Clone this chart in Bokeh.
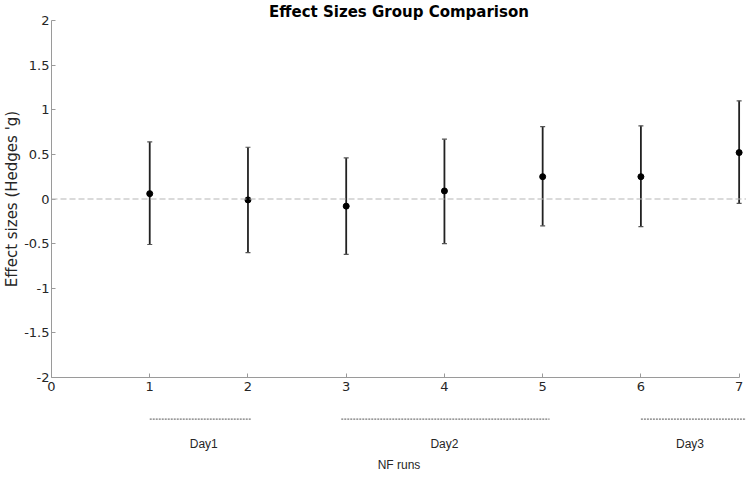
from bokeh.plotting import figure
from bokeh.models import Range1d, Span, ColumnDataSource, FixedTicker, Title
from bokeh.layouts import column
from bokeh.embed import file_html
from bokeh.resources import INLINE
from bokeh.core.properties import value

# ---- data ----
runs = [1, 2, 3, 4, 5, 6, 7]
effect = [0.06, -0.01, -0.08, 0.09, 0.25, 0.25, 0.52]
upper = [0.64, 0.58, 0.46, 0.67, 0.81, 0.82, 1.10]
lower = [-0.51, -0.60, -0.62, -0.50, -0.30, -0.31, -0.05]

x_ticks = [0, 1, 2, 3, 4, 5, 6, 7]
y_ticks = [-2, -1.5, -1, -0.5, 0, 0.5, 1, 1.5, 2]

day_labels = ["Day1", "Day2", "Day3"]
day_start = [1.0, 2.95, 6.0]
day_end = [2.03, 5.07, 7.1]
day_center = [1.55, 4.0, 6.5]

FONT = "DejaVu Sans"
AX_COLOR = "#9a9a9a"
TXT_COLOR = "#262626"
LEFT = 51
W = 746

x_range = Range1d(0, 7.075)

# ---- main figure ----
p = figure(width=W, height=393, x_range=x_range, y_range=Range1d(-2, 2),
           output_backend="svg", toolbar_location=None,
           min_border_left=LEFT, min_border_right=0, min_border_top=0, min_border_bottom=0)
p.title = Title(text="Effect Sizes Group Comparison", align="center",
                text_font=FONT, text_font_size="15px", text_font_style="bold",
                text_color="#000000", standoff=0, offset=0)
p.outline_line_color = None
p.xgrid.grid_line_color = None
p.ygrid.grid_line_color = None

for ax in (p.xaxis[0], p.yaxis[0]):
    ax.axis_line_color = AX_COLOR
    ax.major_tick_line_color = AX_COLOR
    ax.minor_tick_line_color = None
    ax.major_tick_in = 4
    ax.major_tick_out = 0
    ax.major_label_text_font = FONT
    ax.major_label_text_font_size = "13px"
    ax.major_label_text_color = TXT_COLOR
    ax.major_label_standoff = 2

p.xaxis.major_label_standoff = 4
p.xaxis.ticker = FixedTicker(ticks=x_ticks)
p.xaxis.bounds = (0, 7)
p.yaxis.ticker = FixedTicker(ticks=y_ticks)
p.yaxis.bounds = (-2, 2)
p.yaxis.major_label_overrides = {t: f"{t:g}" for t in y_ticks}
p.yaxis.axis_label = "Effect sizes (Hedges 'g)"
p.yaxis.axis_label_text_font = FONT
p.yaxis.axis_label_text_font_size = "15px"
p.yaxis.axis_label_text_font_style = "normal"
p.yaxis.axis_label_text_color = TXT_COLOR
p.yaxis.axis_label_standoff = 0

p.add_layout(Span(location=0, dimension="width", line_color="#b5b5b5",
                  line_dash="6 3", line_width=1.2))

src = ColumnDataSource(dict(x=runs, y=effect, upper=upper, lower=lower))
p.segment(x0="x", y0="lower", x1="x", y1="upper", source=src,
          line_color="#222222", line_width=1.8)
for y_col in ("upper", "lower"):
    p.scatter(x="x", y=y_col, source=src, marker="dash", size=5,
              line_color="#555555", line_width=1.2)
p.scatter(x="x", y="y", source=src, marker="circle", size=6,
          fill_color="#000000", line_color="#000000")

# ---- annotation strip below ----
q = figure(width=W, height=81, x_range=x_range, y_range=Range1d(0, 1),
           output_backend="svg", toolbar_location=None,
           min_border_left=LEFT, min_border_right=0, min_border_top=0, min_border_bottom=0)
q.outline_line_color = None
q.xgrid.grid_line_color = None
q.ygrid.grid_line_color = None
q.yaxis.visible = False
q.xaxis.ticker = FixedTicker(ticks=[])
q.xaxis.axis_line_color = None
q.xaxis.major_tick_line_color = None
q.xaxis.minor_tick_line_color = None
q.xaxis.axis_label = "NF runs"
q.xaxis.axis_label_text_font = "Liberation Sans"
q.xaxis.axis_label_text_font_size = "12px"
q.xaxis.axis_label_text_font_style = "normal"
q.xaxis.axis_label_text_color = TXT_COLOR
q.xaxis.axis_label_standoff = 0

dsrc = ColumnDataSource(dict(x0=day_start, x1=day_end, xc=day_center, label=day_labels,
                             yl=[0.6] * 3, yt=[0.215] * 3))
q.segment(x0="x0", y0="yl", x1="x1", y1="yl", source=dsrc,
          line_color="#555555", line_width=1, line_dash="2 1")
q.text(x="xc", y="yt", text="label", source=dsrc, text_align="center",
       text_baseline="middle", text_font=value("Liberation Sans"),
       text_font_size="12px", text_color=TXT_COLOR)

layout = column(p, q)
open("out.html", "w").write(file_html(layout, INLINE))
